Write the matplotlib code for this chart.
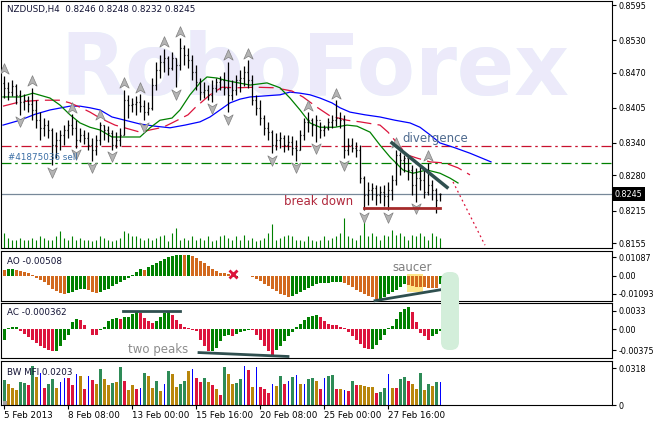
"""
NZDUSD H4 chart with Alligator, fractals, AO, AC and BW MFI panels,
redrawn as a static matplotlib figure (653x423 px).
"""
import matplotlib

matplotlib.use("Agg")
import matplotlib.pyplot as plt
import numpy as np
from matplotlib.patches import FancyBboxPatch, Rectangle
from matplotlib.path import Path
from matplotlib.transforms import IdentityTransform, blended_transform_factory

plt.rcParams["font.family"] = ["DejaVu Sans"]

W, H = 653, 423

# ---- price bars (oldest first) ----
highs = [
    .8464, .8453, .8456, .8449, .8438, .8430, .8427, .8442, .8419, .8397,
    .8386, .8382, .8368, .8360, .8364, .8373, .8382, .8393, .8382, .8368,
    .8364, .8360, .8349, .8355, .8379, .8373, .8371, .8364, .8360, .8368,
    .8438, .8429, .8423, .8427, .8430, .8419, .8416, .8460, .8490, .8503,
    .8514, .8501, .8508, .8497, .8534, .8521, .8516, .8503, .8484, .8460,
    .8453, .8447, .8456, .8460, .8464, .8471, .8490, .8456, .8466, .8475,
    .8482, .8493, .8466, .8429, .8419, .8392, .8379, .8364, .8358, .8360,
    .8355, .8355, .8353, .8345, .8364, .8386, .8397, .8386, .8392, .8379,
    .8373, .8386, .8392, .8419, .8397, .8392, .8349, .8349, .8342, .8336,
    .8279, .8268, .8266, .8262, .8260, .8262, .8268, .8281, .8327, .8323,
    .8318, .8312, .8299, .8294, .8299, .8290, .8303, .8271, .8257, .8248,
]
lows = [
    .8423, .8419, .8427, .8412, .8392, .8401, .8397, .8382, .8368, .8345,
    .8353, .8349, .8299, .8312, .8327, .8336, .8349, .8355, .8331, .8342,
    .8338, .8327, .8307, .8318, .8336, .8345, .8342, .8327, .8331, .8334,
    .8355, .8386, .8397, .8392, .8397, .8382, .8392, .8401, .8438, .8460,
    .8471, .8466, .8475, .8443, .8475, .8484, .8479, .8456, .8438, .8419,
    .8423, .8419, .8416, .8434, .8438, .8429, .8397, .8419, .8429, .8434,
    .8445, .8442, .8410, .8392, .8373, .8355, .8345, .8321, .8327, .8331,
    .8323, .8327, .8318, .8307, .8327, .8345, .8360, .8353, .8342, .8349,
    .8353, .8364, .8368, .8371, .8368, .8312, .8318, .8323, .8314, .8266,
    .8216, .8225, .8234, .8225, .8229, .8223, .8216, .8234, .8262, .8281,
    .8286, .8271, .8244, .8231, .8253, .8238, .8244, .8234, .8210, .8232,
]
closes = [
    .8442, .8434, .8445, .8429, .8416, .8419, .8412, .8401, .8382, .8368,
    .8373, .8364, .8336, .8345, .8355, .8364, .8373, .8368, .8345, .8355,
    .8349, .8336, .8327, .8345, .8373, .8364, .8358, .8336, .8345, .8355,
    .8419, .8410, .8412, .8416, .8408, .8397, .8405, .8447, .8475, .8490,
    .8497, .8479, .8497, .8484, .8516, .8503, .8493, .8471, .8453, .8434,
    .8438, .8429, .8442, .8453, .8456, .8442, .8429, .8438, .8456, .8460,
    .8471, .8456, .8419, .8405, .8386, .8368, .8360, .8336, .8345, .8349,
    .8336, .8342, .8331, .8327, .8355, .8379, .8382, .8373, .8382, .8364,
    .8368, .8379, .8382, .8386, .8382, .8327, .8336, .8331, .8327, .8275,
    .8244, .8253, .8257, .8244, .8249, .8242, .8253, .8271, .8318, .8308,
    .8312, .8290, .8262, .8275, .8271, .8249, .8262, .8253, .8234, .8245,
]
first_open = .8450
last_open = .8246

# tick volume, shown at the foot of the price panel
volumes = [
    1500, 1000, 800, 800, 1000, 800, 800, 1000, 800, 1200,
    1000, 800, 800, 1200, 1700, 1000, 800, 1200, 800, 1000,
    800, 800, 700, 800, 1200, 1000, 800, 700, 800, 1000,
    1700, 1500, 1200, 1200, 1000, 800, 1000, 800, 1000, 1200,
    1300, 700, 1500, 2000, 800, 1000, 800, 1200, 800, 1000,
    800, 1200, 700, 800, 1200, 1300, 1000, 800, 1200, 800,
    1300, 800, 1000, 700, 800, 1000, 1500, 2400, 800, 1000,
    1200, 1300, 1200, 800, 800, 700, 1200, 800, 700, 800,
    1200, 800, 1000, 1200, 1500, 3000, 1200, 1000, 800, 1300,
    2800, 1200, 1500, 1200, 800, 1300, 1200, 1800, 1300, 1500,
    1200, 800, 1300, 1200, 1500, 1200, 800, 1500, 1200, 1000,
]

# Alligator lines at sample bars (shifted forward)
jaw_idx = [-0.25, 4, 7.75, 11.5, 16.5, 19, 21.5, 24, 27, 30.25, 34, 37.75, 41.5, 45.25,
           49, 51.5, 54, 56.5, 59, 61.5, 65.25, 69, 71.5, 74, 76.5, 79, 82, 84, 86.5,
           90.25, 94, 97.75, 101.5, 104, 106.5, 109, 112.75, 116.5, 121.75]
jaw_val = [.8373, .8382, .8393, .8401, .8408, .8408, .8405, .8401, .8388, .8382, .8375,
           .8371, .8368, .8373, .8379, .8388, .8401, .8414, .8421, .8425, .8427, .8429,
           .8434, .8432, .8429, .8423, .8414, .8405, .8397, .8392, .8388, .8382, .8377,
           .8369, .8355, .8340, .8331, .8321, .8305]
teeth_idx = [-0.25, 4, 9, 14, 16.5, 19, 21.5, 24, 27.75, 34, 36.5, 39.75, 42, 46, 47.75,
             51.5, 54.5, 58.25, 63, 67.75, 72, 74.75, 78.25, 81.5, 85.75, 89, 94, 96,
             98.25, 100.75, 103.25, 106.5, 110.25, 113.5, 116.5]
teeth_val = [.8408, .8416, .8419, .8419, .8414, .8406, .8397, .8386, .8373, .8360, .8364,
             .8369, .8377, .8392, .8405, .8429, .8443, .8442, .8443, .8442, .8436, .8425,
             .8406, .8390, .8382, .8379, .8373, .8360, .8340, .8318, .8312, .8305, .8303,
             .8294, .8281]
lips_idx = [-0.25, 4, 7.25, 11.5, 14, 16.5, 19, 21.5, 24, 27, 34, 36.5, 39, 42, 44, 46.5,
            49, 50.75, 53.25, 55.25, 57.25, 61.5, 65.75, 69, 71.5, 74, 76.5, 79, 82.75,
            85.75, 88.25, 91.5, 94, 96.5, 99.75, 102.25, 105.75, 109, 111.5, 113.5]
lips_val = [.8425, .8425, .8432, .8423, .8410, .8392, .8377, .8369, .8364, .8351, .8351,
            .8368, .8382, .8386, .8401, .8429, .8451, .8462, .8460, .8456, .8453, .8447,
            .8451, .8442, .8423, .8401, .8377, .8369, .8369, .8373, .8371, .8360, .8336,
            .8314, .8290, .8284, .8290, .8284, .8275, .8266]

fractals_up = [0, 7, 17, 24, 30, 34, 40, 44, 56, 61, 76, 83, 98, 106]
fractals_down = [4, 12, 18, 22, 27, 35, 43, 52, 56, 67, 73, 78, 85, 90, 96, 103]

sell_level = 0.8335
buy_level = 0.8303
bid = 0.8245

ao = [
    .0033, .0039, .0041, .0033, .0027, .0022, .0016, .0006, -.0014, -.0025,
    -.0039, -.0059, -.0078, -.0092, -.0104, -.0108, -.0104, -.0098, -.0088, -.0082,
    -.0078, -.0088, -.0098, -.0104, -.0098, -.0088, -.0078, -.0065, -.0053, -.0039,
    -.0025, -.0014, .0004, .0020, .0039, .0036, .0053, .0065, .0076, .0088,
    .0100, .0112, .0118, .0122, .0124, .0122, .0125, .0118, .0104, .0088,
    .0073, .0057, .0041, .0029, .0018, .0016, .0010, -.0008, -.0006, -.0004,
    -.0002, -.0001, -.0006, -.0020, -.0033, -.0049, -.0065, -.0080, -.0094, -.0108,
    -.0118, -.0127, -.0123, -.0112, -.0100, -.0088, -.0074, -.0061, -.0051, -.0045,
    -.0043, -.0042, -.0040, -.0038, -.0036, -.0045, -.0055, -.0069, -.0084, -.0098,
    -.0112, -.0123, -.0131, -.0143, -.0139, -.0127, -.0112, -.0098, -.0084, -.0069,
    -.0053, -.0058, -.0062, -.0066, -.0068, -.0071, -.0073, -.0075, -.0077, -.00508,
]
ac = [
    -.0019, .0002, .0003, .0004, -.0004, -.0008, -.0014, -.0019, -.0025, -.0030,
    -.0034, -.0037, -.0040, -.0039, -.0030, -.0019, -.0010, .0012, .0018, .0016,
    .0008, .0000, -.0010, -.0011, -.0002, .0004, .0014, .0018, .0020, .0018,
    .0021, .0022, .0027, .0031, .0029, .0020, .0015, .0011, .0014, .0021,
    .0028, .0031, .0025, .0016, .0009, .0004, .0002, -.0001, -.0004, -.0019,
    -.0030, -.0040, -.0039, -.0034, -.0022, -.0013, -.0010, -.0012, -.0008, -.0006,
    -.0004, -.0001, -.0002, -.0010, -.0019, -.0030, -.0039, -.0047, -.0037, -.0030,
    -.0022, -.0013, -.0006, .0004, .0009, .0016, .0021, .0024, .0025, .0021,
    .0014, .0009, .0008, .0007, .0004, .0001, -.0005, -.0012, -.0019, -.0027,
    -.0033, -.0036, -.0035, -.0028, -.0019, -.0010, .0002, .0005, .0018, .0030,
    .0036, .0040, .0031, .0013, -.0007, -.0013, -.0019, -.0013, -.0009, -.000362,
]
mfi = [
    .0218, .0182, .0145, .0130, .0200, .0191, .0176, .0336, .0242, .0282,
    .0145, .0182, .0227, .0145, .0197, .0236, .0236, .0170, .0267, .0251,
    .0136, .0251, .0221, .0182, .0312, .0230, .0170, .0191, .0200, .0333,
    .0212, .0130, .0170, .0139, .0145, .0282, .0251, .0145, .0212, .0121,
    .0182, .0297, .0273, .0152, .0182, .0206, .0291, .0312, .0236, .0200,
    .0236, .0200, .0170, .0139, .0085, .0327, .0273, .0182, .0191, .0227,
    .0342, .0306, .0152, .0327, .0155, .0139, .0100, .0182, .0161, .0251,
    .0182, .0212, .0242, .0261, .0182, .0182, .0230, .0236, .0206, .0136,
    .0236, .0251, .0261, .0136, .0139, .0130, .0124, .0206, .0170, .0170,
    .0161, .0152, .0152, .0100, .0109, .0145, .0273, .0145, .0145, .0227,
    .0242, .0206, .0182, .0136, .0282, .0130, .0182, .0161, .0197, .0203,
]
# G = green, F = fade, K = fake, S = squat
mfi_kind = ("GFFFGGSGFK" "SGGFKKSSKF" "SKSFGFFGFG" "SFFSKGFFGF" "KGFFGGFKSS"
            "GFSFSGFFGG" "KSFKSSSKFG" "SKGKFKGGFS" "KGGSFKSGSF" "FFFSGGKFSG"
            "GSFFGFGFGK")

time_ticks = [0, 16, 32, 48, 64, 80, 96]
time_labels = ["5 Feb 2013", "8 Feb 08:00", "13 Feb 00:00", "15 Feb 16:00",
               "20 Feb 08:00", "25 Feb 00:00", "27 Feb 16:00"]

FS = 6.3
YFS = 5.8
XLIM = (-0.75, 152)


def panel(fig, top, bottom, yticks, ylabels, ylim):
    ax = fig.add_axes([1 / W, 1 - bottom / H, 611 / W, (bottom - top) / H])
    ax.set_facecolor("none")
    ax.set_xlim(*XLIM)
    ax.set_ylim(*ylim)
    for s in ax.spines.values():
        s.set_linewidth(0.8)
    ax.set_xticks([])
    ax.set_yticks(yticks)
    ax.set_yticklabels(ylabels)
    ax.tick_params(axis="y", left=False, right=True, labelleft=False, labelright=True,
                   length=3, width=0.8, pad=1.5, labelsize=YFS)
    return ax


def arrow_marker(up=True):
    s = 1 if up else -1
    verts = [(0, s), (0.8, -0.8 * s), (0, -0.3 * s), (-0.8, -0.8 * s), (0, s)]
    codes = [Path.MOVETO, Path.LINETO, Path.LINETO, Path.LINETO, Path.CLOSEPOLY]
    return Path(verts, codes)


def draw_price(ax):
    x = np.arange(len(closes))
    opens = [first_open] + closes[:-1]
    opens[-1] = last_open

    # watermark
    for color, clip in (("#E3FAFA", (0.7935, 0.21)), ("#ECEAFA", (0.0, 0.7935))):
        t = ax.text(0.097, 0.619, "RoboForex", transform=ax.transAxes, fontsize=61,
                    fontweight="bold", color=color, va="baseline", ha="left", zorder=0)
        r = Rectangle((0, clip[0]), 1, clip[1], transform=ax.transAxes)
        t.set_clip_path(r)

    ax.vlines(x, 0, np.array(volumes) / 24700, transform=ax.get_xaxis_transform(),
              color="#008000", lw=0.8, zorder=1)

    ax.axhline(sell_level, color="#C8102E", lw=0.9, ls=(0, (8, 3, 2, 3)), zorder=1)
    ax.axhline(buy_level, color="#008000", lw=0.9, ls=(0, (8, 3, 2, 3)), zorder=1)
    ax.axhline(bid, color="#778899", lw=0.9, zorder=1)

    ax.plot(jaw_idx, jaw_val, color="#0000FF", lw=0.9, zorder=2)
    ax.plot(teeth_idx, teeth_val, color="#DC143C", lw=0.9, ls=(0, (12, 5)), zorder=2)
    ax.plot(lips_idx, lips_val, color="#008000", lw=0.9, zorder=2)

    ax.vlines(x, lows, highs, color="black", lw=0.9, zorder=3)
    ax.hlines(opens, x - 0.35, x, color="black", lw=0.9, zorder=3)
    ax.hlines(closes, x, x + 0.35, color="black", lw=0.9, zorder=3)

    up_y = [highs[i] + 0.0012 for i in fractals_up]
    dn_y = [lows[i] - 0.0012 for i in fractals_down]
    ax.scatter(fractals_up, up_y, marker=arrow_marker(True), s=70, facecolor="#B4B4B4",
               edgecolor="#808080", linewidth=0.5, zorder=4)
    ax.scatter(fractals_down, dn_y, marker=arrow_marker(False), s=70, facecolor="#B4B4B4",
               edgecolor="#808080", linewidth=0.5, zorder=4)

    # analyst's markup
    ax.plot([97, 110.75], [0.8340, 0.8258], color="#2F4F4F", lw=2.5, zorder=5)
    ax.plot([90, 109], [0.8219, 0.8219], color="#A52A2A", lw=2, zorder=5)
    ax.plot([112.25, 120.25], [0.8268, 0.8151], color="#DC143C", lw=0.9, ls=(0, (1.5, 2.5)),
            zorder=5)
    ax.text(107.75, 0.8349, "divergence", color="#4E6A8E", fontsize=8.5, ha="center",
            va="center", zorder=6)
    ax.text(78.75, 0.8232, "break down", color="#B0283C", fontsize=8.5, ha="center",
            va="center", zorder=6)
    ax.text(1, 0.8314, "#41875036 sell", color="#3A6EA5", fontsize=FS, va="center", zorder=6)

    ax.text(0.0098, 0.9636, "NZDUSD,H4  0.8246 0.8248 0.8232 0.8245",
            transform=ax.transAxes, fontsize=FS, va="center", color="#111133")
    tr = blended_transform_factory(ax.transAxes, ax.transData)
    ax.text(1.004, bid, "0.8245", transform=tr, color="white", fontsize=YFS, va="center",
            ha="left", clip_on=False, bbox=dict(fc="black", ec="none", pad=1.8))


def hist_colors(vals, up, down, first):
    cols = [first]
    for a, b in zip(vals[:-1], vals[1:]):
        cols.append(up if b > a else down)
    return cols


def main():
    fig = plt.figure(figsize=(W / 100, H / 100), dpi=100)

    ax = panel(fig, 1, 248, [.8595, .8530, .8470, .8405, .8340, .8280, .8215, .8155],
               ["0.8595", "0.8530", "0.8470", "0.8405", "0.8340", "0.8280", "0.8215",
                "0.8155"], (0.81458, 0.86024))
    draw_price(ax)

    ax_ao = panel(fig, 251, 301, [0.01087, 0, -0.01093], ["0.01087", "0.00", "-0.01093"],
                  (-0.0153, 0.0147))
    x = np.arange(len(ao))
    ax_ao.bar(x, ao, width=0.75, linewidth=0, zorder=2,
              color=hist_colors(ao, "#008000", "#D2691E", "#D2691E"))
    ax_ao.add_patch(Rectangle((100.75, -0.0100), 4, 0.0106, fc="#FFE68A", ec="none", zorder=1))
    ax_ao.plot([92.75, 109.75], [-0.0151, -0.0083], color="#2F4F4F", lw=2, zorder=3,
               clip_on=False)
    ax_ao.plot([57.25], [0.0012], marker="x", color="#DC143C", ms=6, mew=2, zorder=4)
    ax_ao.text(102, 0.0050, "saucer", color="#7F7F7F", fontsize=8.5, ha="center",
               va="center")
    ax_ao.text(0.0098, 0.8, "AO -0.00508", transform=ax_ao.transAxes, fontsize=FS,
               va="center", color="#111133")

    ax_ac = panel(fig, 303, 358, [0.0033, 0, -0.00375], ["0.0033", "0.00", "-0.00375"],
                  (-0.00517, 0.00465))
    x = np.arange(len(ac))
    ax_ac.bar(x, ac, width=0.75, linewidth=0, zorder=2,
              color=hist_colors(ac, "#008000", "#DC143C", "#008000"))
    ax_ac.plot([29.75, 44], [0.00324, 0.00324], color="#2F4F4F", lw=2, zorder=3)
    ax_ac.plot([48.75, 71], [-0.0042, -0.0049], color="#2F4F4F", lw=2, zorder=3)
    ax_ac.text(38.5, -0.0036, "two peaks", color="#8C8C8C", fontsize=8.5, ha="center",
               va="center")
    ax_ac.text(0.0098, 0.82, "AC -0.000362", transform=ax_ac.transAxes, fontsize=FS,
               va="center", color="#111133")

    ax_mfi = panel(fig, 361, 405, [0.0318, 0], ["0.0318", "0"], (0, 0.0382))
    kind_color = {"G": "#2E8B57", "F": "#B8860B", "K": "#0000FF", "S": "#DC143C"}
    x = np.arange(len(mfi))
    widths = [0.25 if k == "K" else 0.75 for k in mfi_kind]
    ax_mfi.bar(x, mfi, width=widths, linewidth=0, color=[kind_color[k] for k in mfi_kind])
    ax_mfi.add_patch(Rectangle((0.003, 0), 0.007, 0.09, transform=ax_mfi.transAxes,
                               fc="#A0A0A0", ec="none"))
    ax_mfi.text(0.0098, 0.73, "BW MFI 0.0203", transform=ax_mfi.transAxes, fontsize=FS,
                va="center", color="#111133")
    ax_mfi.set_xticks(time_ticks)
    ax_mfi.set_xticklabels(time_labels)
    ax_mfi.tick_params(axis="x", direction="out", length=3, width=0.8, pad=1, labelsize=FS)
    for lbl in ax_mfi.get_xticklabels():
        lbl.set_ha("left")

    # highlight box spanning the AO and AC panels
    fig.patches.append(FancyBboxPatch((441, H - 350), 18, 78,
                                      boxstyle="round,pad=0,rounding_size=8",
                                      transform=IdentityTransform(), fc="#D3EEDA",
                                      ec="none", zorder=5, figure=fig))

    fig.savefig("out.png", dpi=100)


if __name__ == "__main__":
    main()
